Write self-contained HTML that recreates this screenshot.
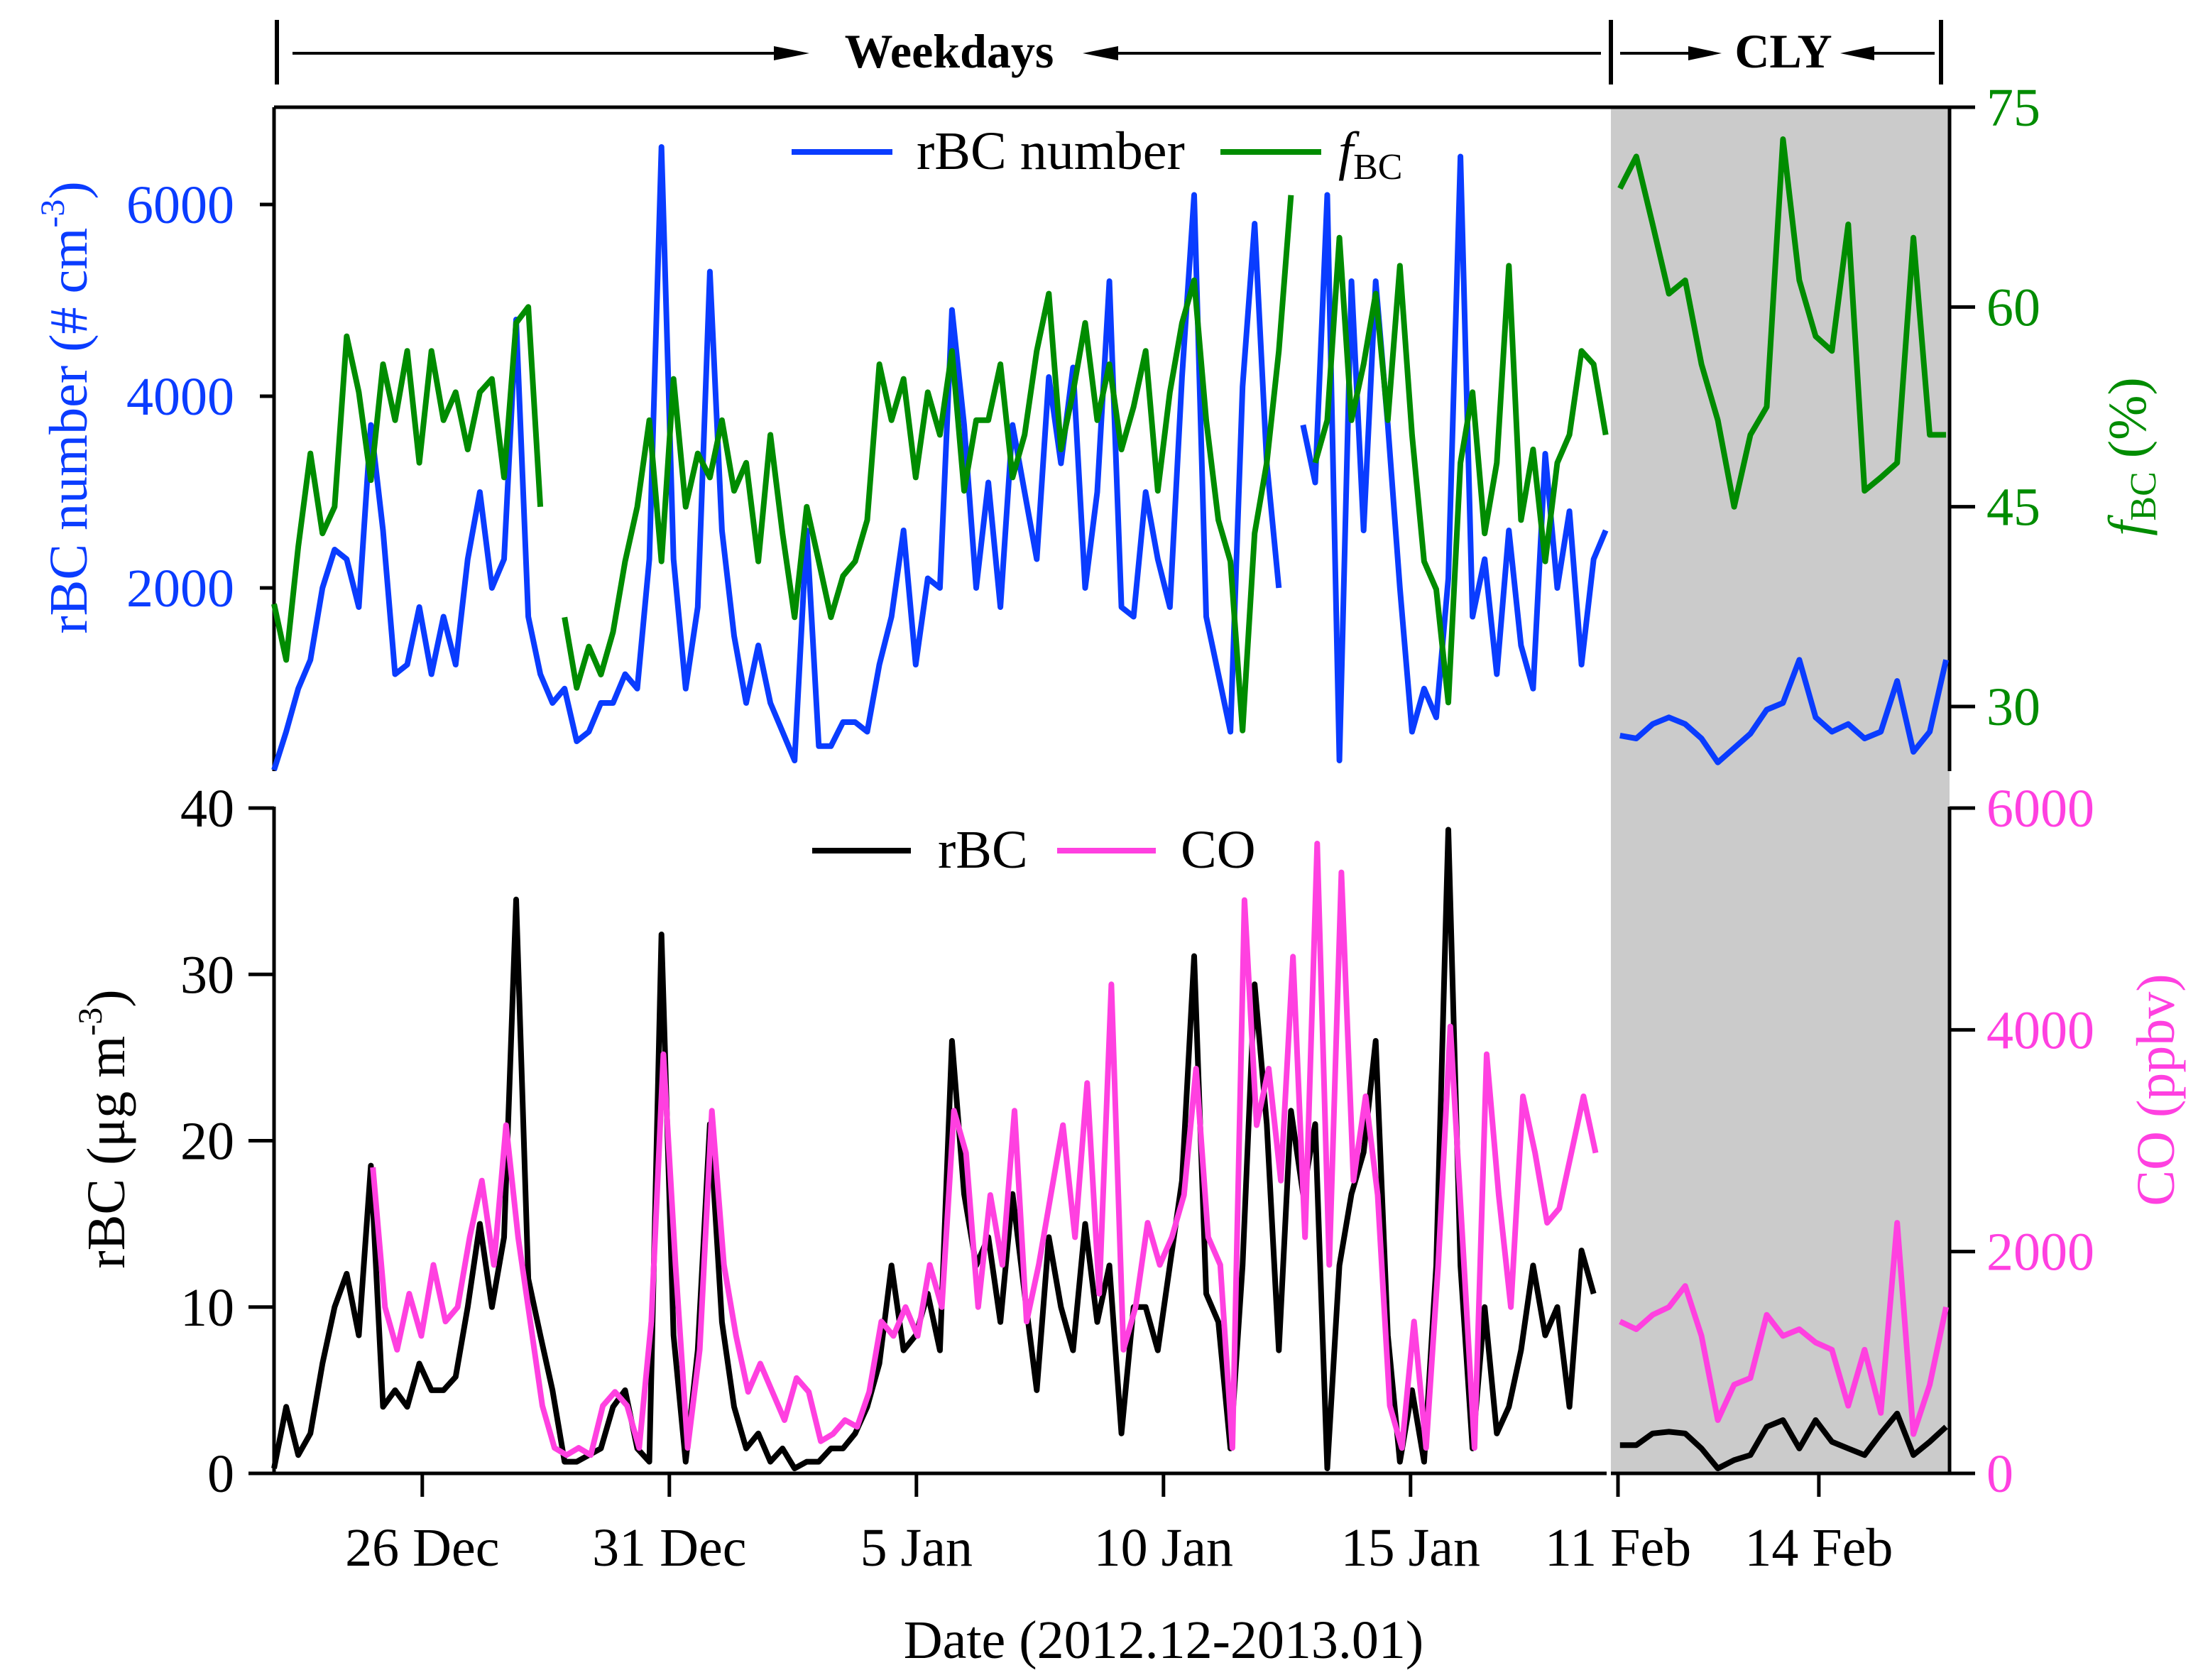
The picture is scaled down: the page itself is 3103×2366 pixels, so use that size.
<!DOCTYPE html>
<html><head><meta charset="utf-8"><style>
html,body{margin:0;padding:0;background:#fff}
svg{display:block}
text{font-family:"Liberation Serif",serif}
</style></head><body>
<svg id="chart" width="3103" height="2366" viewBox="0 0 3103 2366" xmlns="http://www.w3.org/2000/svg">
<rect x="2269" y="151" width="477" height="1924" fill="#cbcbcb"/>
<g id="axes"></g>
<g id="marks"></g>
<g stroke="#000" stroke-width="6" fill="none">
<line x1="390" y1="28" x2="390" y2="119"/><line x1="2269" y1="28" x2="2269" y2="119"/><line x1="2734" y1="28" x2="2734" y2="119"/>
<line x1="412" y1="75" x2="1100" y2="75" stroke-width="4"/><line x1="1560" y1="75" x2="2255" y2="75" stroke-width="4"/>
<line x1="2282" y1="75" x2="2380" y2="75" stroke-width="4"/><line x1="2640" y1="75" x2="2725" y2="75" stroke-width="4"/>
</g>
<g fill="#000">
<polygon points="1140,75 1090,65 1090,85"/><polygon points="1525,75 1575,65 1575,85"/>
<polygon points="2425,75 2378,65 2378,85"/><polygon points="2592,75 2640,65 2640,85"/>
</g>
<text x="1337" y="95" font-size="68" font-weight="bold" text-anchor="middle">Weekdays</text>
<text x="2512" y="95" font-size="68" font-weight="bold" text-anchor="middle">CLY</text>
<g>
<line x1="1115" y1="214" x2="1257" y2="214" stroke="#0a3cff" stroke-width="8"/>
<text x="1291" y="238" font-size="76">rBC number</text>
<line x1="1719" y1="214" x2="1861" y2="214" stroke="#008c00" stroke-width="8"/>
<text x="1885" y="238" font-size="76"><tspan font-style="italic">f</tspan><tspan font-size="52" dy="14">BC</tspan></text>
</g>
<g>
<line x1="1144" y1="1198" x2="1283" y2="1198" stroke="#000" stroke-width="8"/>
<text x="1321" y="1222" font-size="76">rBC</text>
<line x1="1489" y1="1198" x2="1628" y2="1198" stroke="#ff40e0" stroke-width="8"/>
<text x="1663" y="1222" font-size="76">CO</text>
</g>
<text transform="translate(122,574) rotate(-90)" font-size="76" fill="#0a3cff" text-anchor="middle">rBC number (# cm<tspan font-size="48" dy="-32">-3</tspan><tspan dy="32">)</tspan></text>
<text transform="translate(175,1590) rotate(-90)" font-size="76" fill="#000" text-anchor="middle">rBC (μg m<tspan font-size="48" dy="-32">-3</tspan><tspan dy="32">)</tspan></text>
<text transform="translate(3022,643) rotate(-90)" font-size="76" fill="#008c00" text-anchor="middle"><tspan font-style="italic">f</tspan><tspan font-size="52" dy="14">BC</tspan><tspan dy="-14"> (%)</tspan></text>
<text transform="translate(3062,1535) rotate(-90)" font-size="76" fill="#ff40e0" text-anchor="middle">CO (ppbv)</text>
<text x="1639" y="2335" font-size="76" text-anchor="middle">Date (2012.12-2013.01)</text>
</svg>
<script>
// weekday series: start day offset (days since 23 Dec), step in days
const wkStart = 0, wkStep = 0.245;
const coStart = 2.0;
const febStart = 0.03, febStep = 0.2435;
const rbcNumberWk = [100,500,950,1250,2000,2400,2300,1800,3700,2600,1100,1200,1800,1100,1700,1200,2300,3000,2000,2300,4800,1700,1100,800,950,400,500,800,800,1100,950,2300,6600,2300,950,1800,5300,2600,1500,800,1400,800,500,200,2600,350,350,600,600,500,1200,1700,2600,1200,2100,2000,4900,3700,2000,3100,1800,3700,3000,2300,4200,3300,4300,2000,3000,5200,1800,1700,3000,2300,1800,4200,6100,1700,1100,500,4100,5800,3300,2000,null,3700,3100,6100,200,5200,2600,5200,3700,2000,500,950,650,2100,6500,1700,2300,1100,2600,1400,950,3400,2000,2800,1200,2300,2600];
const fbcWk = [37.7,33.5,42,49,43,45,57.8,53.6,47,55.7,51.5,56.7,48.3,56.7,51.5,53.6,49.3,53.6,54.6,47.2,58.8,60,45,null,36.7,31.4,34.5,32.4,35.6,40.9,45,51.5,40.9,54.6,45,49,47.2,51.5,46.2,48.3,40.9,50.4,43,36.7,45,40.9,36.7,39.8,40.9,44,55.7,51.5,54.6,47.2,53.6,50.4,56.7,46.2,51.5,51.5,55.7,47.2,50.4,56.7,61,49.3,53.6,58.8,51.5,55.7,49.3,52.5,56.7,46.2,53.6,58.8,62,51.5,44,40.9,28.2,43,48.3,56.7,68.4,null,48.3,51.5,65.2,51.5,55.7,61,51.5,63.1,50.4,40.9,38.8,30.3,48.3,53.6,43,48.3,63.1,44,49.3,40.9,48.3,50.4,56.7,55.7,50.4];
const rbcWk = [0.3,4,1.1,2.4,6.6,10,12,8.3,18.5,4,5,4,6.6,5,5,5.8,10,15,10,14.2,34.5,11.7,8.3,5,0.7,0.7,1.1,1.5,4,5,1.5,0.7,32.4,8.3,0.7,7.4,21,9.1,4,1.5,2.4,0.7,1.5,0.3,0.7,0.7,1.5,1.5,2.4,4,6.6,12.5,7.4,8.3,10.8,7.4,26,16.8,12.5,14.2,9.1,16.8,10.8,5,14.2,10,7.4,15,9.1,12.5,2.4,10,10,7.4,12.5,17.6,31.1,10.8,9.1,1.5,12.5,29.4,21,7.4,21.8,16.8,21,0.3,12.5,16.8,19.3,26,8.3,0.7,5,0.7,12.5,38.7,12.5,1.5,10,2.4,4,7.4,12.5,8.3,10,4,13.4,10.8];
const coWk = [2760,1500,1115,1620,1240,1880,1370,1500,2130,2640,1880,3140,2130,1370,610,230,165,230,165,610,735,610,230,1370,3780,1880,230,1115,3270,1880,1240,735,990,735,480,860,735,290,355,480,420,735,1370,1240,1500,1240,1880,1500,3270,2890,1500,2510,1880,3270,1370,1880,2510,3140,2130,3520,1620,4410,1115,1500,2260,1880,2130,2510,3650,2130,1880,230,5170,3140,3650,2640,4660,2130,5680,1880,5420,2640,3400,2510,610,230,1370,230,1880,4030,2130,230,3780,2510,1500,3400,2890,2260,2390,2890,3400,2890];
const rbcNumberFeb = [460,430,580,650,580,430,180,330,480,730,800,1250,650,500,580,430,500,1030,290,500,1250];
const fbcFeb = [68.9,71.3,66.2,61,62,55.7,51.5,45,50.4,52.5,72.6,62,57.8,56.7,66.2,46.2,47.2,48.3,65.2,50.4,50.4];
const rbcFeb = [1.7,1.7,2.4,2.5,2.4,1.5,0.3,0.8,1.1,2.8,3.2,1.5,3.2,1.9,1.5,1.1,2.4,3.6,1.1,1.9,2.8];
const coFeb = [1370,1300,1430,1500,1690,1240,480,800,860,1430,1240,1300,1180,1115,610,1115,545,2260,355,800,1500];
const leftTopTicks = [2000,4000,6000];
const rightTopTicks = [30,45,60,75];
const leftBotTicks = [0,10,20,30,40];
const rightBotTicks = [0,2000,4000,6000];
const wkDateTicks = [3,8,13,18,23];
const wkDateLabels = ['26 Dec','31 Dec','5 Jan','10 Jan','15 Jan'];
const febDateTicks = [0,3];
const febDateLabels = ['11 Feb','14 Feb'];

const NS='http://www.w3.org/2000/svg';
const xWk = d => 386 + d*69.6;
const xFeb = d => 2279 + d*94.3;
const yNum = v => 1098 - v*0.135;
const yF = v => 151 + (75-v)*(844/45);
const yR = v => 2075 - v*(937/40);
const yCO = v => 2075 - v*(937/6000);
function mk(tag, parent){const e=document.createElementNS(NS,tag);document.getElementById(parent).appendChild(e);return e;}
function line(x1,y1,x2,y2,name,col){const l=mk('line','axes');


l.setAttribute('x1',x1);l.setAttribute('y1',y1);l.setAttribute('x2',x2);l.setAttribute('y2',y2);l.setAttribute('stroke',col||'#000');l.setAttribute('stroke-width',5);}
function label(x,y,s,anchor,col,name){const t=mk('text','axes');


t.setAttribute('x',x);t.setAttribute('y',y);t.setAttribute('font-size',76);t.setAttribute('text-anchor',anchor);t.setAttribute('fill',col);t.textContent=s;}
function series(vals,start,step,xf,yf,col,name){
  let d='',pen=false;
  vals.forEach((v,i)=>{ if(v===null){pen=false;return;} const x=xf(start+i*step), y=yf(v); d+=(pen?'L':'M')+x.toFixed(1)+' '+y.toFixed(1)+' '; pen=true;});
  const p=mk('path','marks');
  
  
  p.setAttribute('d',d);p.setAttribute('fill','none');p.setAttribute('stroke',col);p.setAttribute('stroke-width',8);p.setAttribute('stroke-linejoin','round');
}
// axes
line(386,151,2782,151,'top-border');
line(386,151,386,1086,'left-axis-top');
line(2746,151,2746,1086,'right-axis-top');
line(386,1136,386,2075,'left-axis-bottom');
line(2746,1136,2746,2075,'right-axis-bottom');
line(386,2075,2263,2075,'x-axis-weekdays');
line(2269,2075,2746,2075,'x-axis-feb');
leftTopTicks.forEach(v=>{line(366,yNum(v),386,yNum(v),'left-top-tick');label(330,yNum(v)+26,String(v),'end','#0a3cff','left-top-tick-label');});
rightTopTicks.forEach(v=>{line(2746,yF(v),2782,yF(v),'right-top-tick');label(2798,yF(v)+26,String(v),'start','#008c00','right-top-tick-label');});
leftBotTicks.forEach(v=>{line(350,yR(v),386,yR(v),'left-bottom-tick');label(330,yR(v)+26,String(v),'end','#000','left-bottom-tick-label');});
rightBotTicks.forEach(v=>{line(2746,yCO(v),2782,yCO(v),'right-bottom-tick');label(2798,yCO(v)+26,String(v),'start','#ff40e0','right-bottom-tick-label');});
wkDateTicks.forEach((d,i)=>{line(xWk(d),2075,xWk(d),2108,'x-tick');label(xWk(d),2205,wkDateLabels[i],'middle','#000','x-tick-label');});
febDateTicks.forEach((d,i)=>{line(xFeb(d),2075,xFeb(d),2108,'x-tick');label(xFeb(d),2205,febDateLabels[i],'middle','#000','x-tick-label');});
// series
series(rbcNumberWk,wkStart,wkStep,xWk,yNum,'#0a3cff','rbc-number-weekdays');
series(fbcWk,wkStart,wkStep,xWk,yF,'#008c00','fbc-weekdays');
series(rbcNumberFeb,febStart,febStep,xFeb,yNum,'#0a3cff','rbc-number-cly');
series(fbcFeb,febStart,febStep,xFeb,yF,'#008c00','fbc-cly');
series(rbcWk,wkStart,wkStep,xWk,yR,'#000','rbc-weekdays');
series(coWk,coStart,wkStep,xWk,yCO,'#ff40e0','co-weekdays');
series(rbcFeb,febStart,febStep,xFeb,yR,'#000','rbc-cly');
series(coFeb,febStart,febStep,xFeb,yCO,'#ff40e0','co-cly');
</script>
</body></html>
